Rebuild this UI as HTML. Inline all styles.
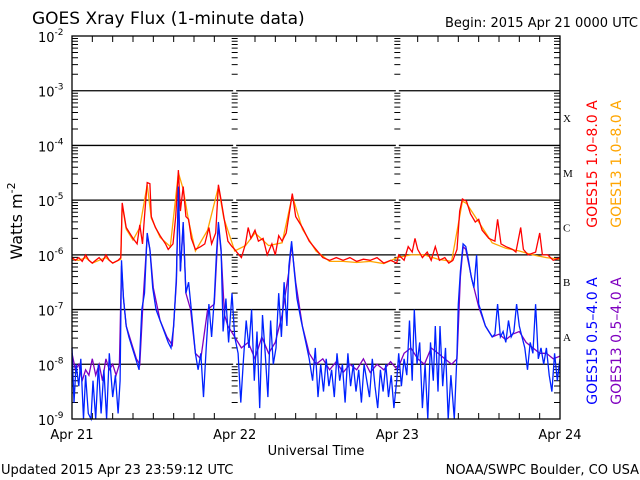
<!DOCTYPE html>
<html><head><meta charset="utf-8"><style>
html,body{margin:0;padding:0;background:#fff;}
svg{display:block;font-family:"DejaVu Sans","Liberation Sans",sans-serif;}
</style></head><body>
<svg id="chart" width="640" height="480" viewBox="0 0 640 480" xmlns="http://www.w3.org/2000/svg">
<rect width="640" height="480" fill="#fff"/>
<text x="32" y="24" font-size="17" fill="#000">GOES Xray Flux (1-minute data)</text>
<text x="638" y="27" font-size="13" fill="#000" text-anchor="end">Begin:  2015 Apr 21 0000 UTC</text>
<text transform="translate(22,221) rotate(-90)" font-size="16" text-anchor="middle" fill="#000">Watts m<tspan dy="-7" font-size="11">-2</tspan></text>
<text x="316" y="455" font-size="13" text-anchor="middle" fill="#000">Universal Time</text>
<text x="1" y="474" font-size="13" fill="#000">Updated 2015 Apr 23 23:59:12 UTC</text>
<text x="639" y="474" font-size="13" fill="#000" text-anchor="end">NOAA/SWPC Boulder, CO USA</text>
<text transform="translate(597,164) rotate(-90)" font-size="14" text-anchor="middle" fill="#ff0000">GOES15 1.0–8.0 A</text>
<text transform="translate(621,164) rotate(-90)" font-size="14" text-anchor="middle" fill="#ffa500">GOES13 1.0–8.0 A</text>
<text transform="translate(597,341) rotate(-90)" font-size="14" text-anchor="middle" fill="#0000ff">GOES15 0.5–4.0 A</text>
<text transform="translate(621,341) rotate(-90)" font-size="14" text-anchor="middle" fill="#7f00bf">GOES13 0.5–4.0 A</text>
<g id="axes"></g>
<g id="series"></g>
<g id="frame"></g>
</svg>
<script>
const dayLabels = ["Apr 21","Apr 22","Apr 23","Apr 24"];
const decadeExps = [-2,-3,-4,-5,-6,-7,-8,-9];
const flareClasses = ["X","M","C","B","A"];
const flareClassExps = [-3,-4,-5,-6,-7];
const goes15LongT = [0,0.5,1,1.5,2,2.5,3,3.5,4,4.5,5,5.5,6,6.8,7.2,7.4,7.6,8,8.5,9,9.6,10,10.4,10.7,11.1,11.5,11.7,12.3,13,13.8,14.2,14.9,15.3,15.7,16,16.4,16.8,17.2,17.6,18.2,19,19.6,20.2,20.6,21.2,21.6,22,22.4,23,23.6,24,24.3,25,25.6,26,26.4,27,27.5,28.2,28.8,29.5,30,30.5,31,31.6,32.1,32.5,33,34,35,36,37,38,39,40,41,42,43,44,45,46,47,47.9,48.2,49,49.6,50.2,50.6,51,51.7,52.4,53,53.6,54.2,55,55.6,56.2,56.8,57.2,57.6,58.2,58.8,59.5,60,60.5,61.5,62.4,62.8,63.3,64,65,65.5,66.2,66.6,67.3,68.4,69,69.4,70.2,71,72];
const goes15LongV = [-6.05,-6.1,-6.05,-6.12,-6.0,-6.1,-6.15,-6.1,-6.05,-6.12,-6.0,-6.1,-6.15,-6.1,-6.05,-5.05,-5.2,-5.5,-5.6,-5.7,-5.8,-5.45,-5.8,-5.3,-4.68,-4.7,-5.3,-5.5,-5.65,-5.8,-5.9,-5.8,-5.3,-4.45,-5.2,-4.75,-5.3,-5.35,-5.7,-5.9,-5.85,-5.8,-5.5,-5.8,-5.6,-4.72,-5.0,-5.3,-5.75,-5.85,-5.9,-5.95,-6.05,-5.8,-5.5,-5.7,-5.55,-5.75,-5.7,-6.0,-5.8,-6.0,-5.65,-5.75,-5.6,-5.2,-4.88,-5.3,-5.5,-5.75,-5.9,-6.05,-6.1,-6.05,-6.1,-6.05,-6.12,-6.08,-6.1,-6.05,-6.15,-6.1,-6.15,-6.0,-6.1,-5.85,-5.95,-5.7,-5.9,-6.05,-5.95,-6.1,-5.85,-6.1,-6.05,-6.15,-6.1,-5.9,-5.2,-4.98,-5.02,-5.25,-5.4,-5.35,-5.55,-5.7,-5.75,-5.35,-5.8,-5.85,-5.9,-5.95,-5.5,-5.9,-6.0,-5.95,-5.6,-6.0,-6.0,-6.1,-6.05];
const goes13LongT = [0,1,2,3,4,5,6,7.2,7.4,8,9,10,11.1,11.7,13,14.5,15.7,16.4,17.2,18.2,20,21.6,22.4,24,25.6,27,29,31,32.5,34,36,38,40,42,44,46,48,50,52,54,56,57.6,58.2,60,62,64,66,68,70,72];
const goes13LongV = [-6.08,-6.1,-6.05,-6.15,-6.1,-6.05,-6.15,-6.08,-5.08,-5.53,-5.73,-5.5,-4.72,-5.33,-5.68,-5.85,-4.5,-4.8,-5.38,-5.93,-5.55,-4.76,-5.33,-5.93,-5.83,-5.6,-5.83,-5.78,-4.92,-5.53,-5.93,-6.12,-6.12,-6.14,-6.12,-6.16,-6.05,-6.0,-6.0,-6.08,-6.12,-5.02,-5.06,-5.4,-5.78,-5.88,-5.93,-6.0,-6.05,-6.08];
const goes15ShortT = [0,0.3,0.6,1,1.3,1.7,2,2.4,2.8,3.1,3.5,3.9,4.3,4.7,5.1,5.5,6,6.4,6.8,7.1,7.3,7.6,8,8.4,8.9,9.4,9.9,10.3,10.7,11.1,11.5,11.9,12.4,13,13.6,14.2,14.6,15,15.4,15.7,16,16.4,16.8,17.2,17.6,18.2,18.6,19,19.4,19.8,20.2,20.6,21,21.3,21.6,22,22.3,22.7,23.1,23.6,24,24.5,24.9,25.3,25.7,26.1,26.5,26.9,27.3,27.7,28.1,28.5,28.9,29.3,29.7,30.1,30.5,30.9,31.3,31.7,32,32.4,32.8,33.2,33.8,34.5,35,35.5,35.9,36.3,36.7,37.1,37.5,37.9,38.3,38.7,39.1,39.5,39.9,40.3,40.7,41.1,41.5,41.9,42.3,42.7,43.1,43.5,43.9,44.3,44.7,45.1,45.5,45.9,46.3,46.7,47.1,47.5,47.9,48.2,48.6,49,49.4,49.8,50.2,50.5,50.9,51.3,51.7,52.1,52.5,52.9,53.3,53.6,54,54.3,54.7,55.1,55.5,55.9,56.4,56.8,57,57.3,57.7,58.1,58.5,58.9,59.3,59.7,60,60.5,61,61.5,62,62.4,62.8,63.2,63.6,64,64.4,64.8,65.2,65.6,66,66.4,66.8,67.2,67.6,68,68.4,68.8,69.2,69.6,70,70.4,70.8,71.2,71.6,72];
const goes15ShortV = [-7.7,-8.7,-8.0,-8.4,-7.9,-9.0,-8.2,-8.9,-9.0,-8.3,-9.0,-8.0,-8.9,-8.1,-9.0,-7.8,-8.6,-8.2,-8.9,-8.3,-6.1,-6.8,-7.3,-7.5,-7.7,-7.9,-8.1,-7.0,-6.7,-5.6,-5.9,-6.6,-7.0,-7.2,-7.4,-7.6,-7.7,-7.3,-6.4,-4.75,-6.3,-5.4,-6.7,-6.5,-7.0,-7.8,-8.1,-7.8,-8.6,-7.7,-6.9,-7.5,-6.8,-6.0,-5.4,-5.9,-7.4,-6.8,-7.6,-6.7,-7.5,-7.8,-8.7,-7.9,-7.2,-7.7,-7.0,-8.3,-7.4,-8.8,-7.1,-7.8,-8.6,-7.2,-8.0,-7.7,-6.7,-7.5,-6.5,-7.3,-6.2,-5.75,-6.3,-6.8,-7.2,-7.6,-7.9,-8.3,-7.7,-8.6,-8.0,-8.5,-7.9,-8.4,-8.1,-8.6,-7.8,-8.3,-8.0,-8.7,-7.8,-8.4,-8.0,-8.5,-8.1,-8.7,-8.0,-8.3,-8.6,-7.9,-8.4,-8.8,-8.1,-8.5,-8.0,-8.6,-8.2,-8.8,-8.3,-7.8,-8.4,-7.9,-8.2,-7.2,-8.3,-7.0,-8.0,-7.6,-8.8,-8.0,-9.0,-7.6,-8.3,-7.3,-8.5,-7.3,-8.4,-7.7,-9.0,-8.2,-9.0,-7.8,-6.9,-6.3,-5.8,-5.85,-6.1,-6.4,-6.6,-6.0,-6.9,-7.1,-7.3,-7.4,-7.5,-7.45,-6.9,-7.5,-7.4,-7.6,-7.2,-7.5,-7.4,-6.9,-7.3,-7.5,-7.7,-8.1,-7.6,-7.8,-6.9,-7.9,-7.7,-8.0,-7.7,-8.2,-8.5,-7.8,-8.3,-7.9];
const goes13ShortT = [0,0.5,1,1.5,2,2.5,3,3.5,4,4.5,5,5.5,6,6.5,7,7.3,7.6,8,8.5,9,9.5,10,10.5,11.1,11.5,12,13,14,14.8,15.4,15.7,16,16.4,16.8,17.5,18.2,19,20,21,21.6,22,22.5,23,24,25,26,27,28,29,30,31,32,32.4,33,34,35,36,37,38,39,40,41,42,43,44,45,46,47,48,49,50,51,52,53,54,55,56,56.8,57.3,57.7,58.1,59,60,61,62,63,64,65,66,67,68,69,70,71,72];
const goes13ShortV = [-7.8,-8.1,-8.0,-8.3,-8.1,-8.2,-7.9,-8.2,-8.0,-8.3,-7.9,-8.1,-8.0,-8.2,-8.0,-6.2,-6.8,-7.3,-7.5,-7.7,-7.9,-8.0,-6.8,-5.65,-5.9,-6.6,-7.2,-7.5,-7.65,-6.5,-4.8,-6.3,-5.45,-6.7,-7.0,-7.8,-7.9,-7.0,-6.9,-5.45,-5.95,-7.1,-7.3,-7.5,-7.7,-7.6,-7.9,-7.5,-7.8,-7.6,-7.1,-6.3,-5.8,-6.5,-7.3,-7.8,-8.0,-7.9,-8.1,-7.95,-8.15,-8.0,-8.1,-7.9,-8.15,-8.0,-8.1,-7.95,-8.1,-7.8,-7.7,-7.9,-8.0,-7.7,-7.8,-7.9,-8.0,-7.9,-6.4,-5.85,-5.9,-6.45,-6.95,-7.3,-7.5,-7.45,-7.55,-7.45,-7.4,-7.6,-7.7,-7.8,-7.8,-7.9,-7.85];

const NS='http://www.w3.org/2000/svg';
const X0=72, X1=560, Y0=36, Y1=419;
const xs = h => X0 + (h/72)*(X1-X0);
const ys = e => Y0 + (-2 - e)/7*(Y1-Y0);
function mk(tag, parent){const el=document.createElementNS(NS,tag);parent.appendChild(el);return el;}
const axes=document.getElementById('axes'), series=document.getElementById('series'), frame=document.getElementById('frame');

decadeExps.forEach(e=>{
  if(e===-2||e===-9) return;
  const l=mk('line',axes);
  
  
  l.setAttribute('x1',X0);l.setAttribute('x2',X1);l.setAttribute('y1',ys(e));l.setAttribute('y2',ys(e));
  l.setAttribute('stroke','#000');l.setAttribute('stroke-width','1.3');
});
decadeExps.forEach(e=>{
  const t=mk('text',axes);
  
  
  t.setAttribute('x',38);t.setAttribute('y',ys(e)+6);t.setAttribute('font-size','13');
  t.textContent='10';
  const s=mk('tspan',t);s.setAttribute('dy','-7');s.setAttribute('font-size','9');s.textContent=String(e);
});
const minorPath=[];
for(let d=-9; d<-2; d++){
  for(let m=2;m<=9;m++){
    const y=ys(d+Math.log10(m));
    minorPath.push(`M${X0} ${y}h6M${X1} ${y}h-6`);
    [1,2].forEach(k=>{const x=xs(24*k);minorPath.push(`M${x-3} ${y}h6`);});
  }
}
for(let h=3;h<72;h+=3){
  if(h%24===0) continue;
  const x=xs(h);
  minorPath.push(`M${x} ${Y1}v-6M${x} ${Y0}v6`);
}
const mp=mk('path',axes);


mp.setAttribute('d',minorPath.join(''));mp.setAttribute('stroke','#000');mp.setAttribute('stroke-width','1');mp.setAttribute('fill','none');

[1,2].forEach(k=>{
  const r=mk('rect',axes);
  
  
  r.setAttribute('x',xs(24*k)-1.5);r.setAttribute('y',Y0);r.setAttribute('width',3);r.setAttribute('height',Y1-Y0);r.setAttribute('fill','#fff');
  axes.insertBefore(r, mp);
});

function line(T,V,color,name){
  const p=mk('path',series);
  
  
  p.setAttribute('d',T.map((t,i)=>(i?'L':'M')+xs(t).toFixed(1)+' '+Math.min(Y1,ys(V[i])).toFixed(1)).join(''));
  p.setAttribute('stroke',color);p.setAttribute('stroke-width','1.3');p.setAttribute('fill','none');
}
line(goes13LongT,goes13LongV,'#ffa500','series-goes13-long');
line(goes15LongT,goes15LongV,'#ff0000','series-goes15-long');
line(goes13ShortT,goes13ShortV,'#7f00bf','series-goes13-short');
line(goes15ShortT,goes15ShortV,'#0022ff','series-goes15-short');

const fr=mk('rect',frame);


fr.setAttribute('x',X0);fr.setAttribute('y',Y0);fr.setAttribute('width',X1-X0);fr.setAttribute('height',Y1-Y0);
fr.setAttribute('fill','none');fr.setAttribute('stroke','#000');fr.setAttribute('stroke-width','1.3');

dayLabels.forEach((lab,i)=>{
  const t=mk('text',frame);
  
  
  t.setAttribute('x',xs(24*i));t.setAttribute('y',439);t.setAttribute('font-size','13');t.setAttribute('text-anchor','middle');
  t.textContent=lab;
});
flareClasses.forEach((c,i)=>{
  const t=mk('text',frame);
  
  
  t.setAttribute('x',563);t.setAttribute('y',ys(flareClassExps[i]-0.5)+4);t.setAttribute('font-size','11');
  t.setAttribute('font-family','"Liberation Serif",serif');
  t.textContent=c;
});
</script>
</body></html>
